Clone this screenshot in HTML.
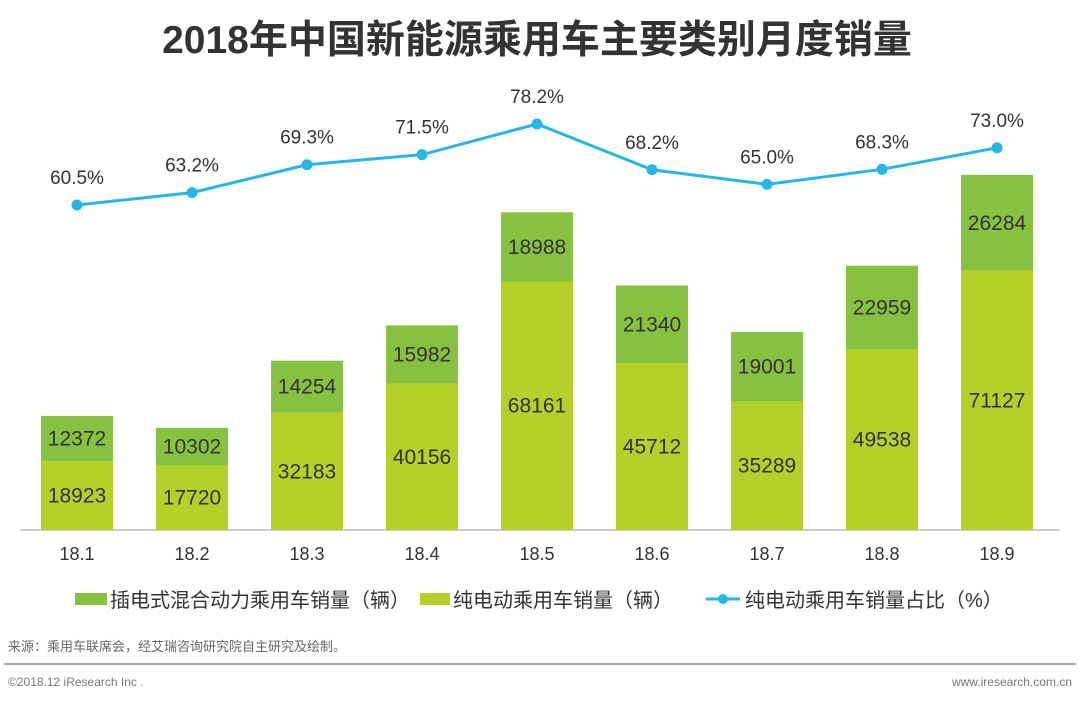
<!DOCTYPE html>
<html><head><meta charset="utf-8">
<style>
body{margin:0;background:#fff;width:1080px;height:698px;overflow:hidden;font-family:"Liberation Sans","Noto Sans CJK SC",sans-serif;}
svg text{font-family:"Liberation Sans","Noto Sans CJK SC",sans-serif;}
</style></head><body>
<svg id="chart" width="1080" height="698">
<text x="537" y="53" text-anchor="middle" font-size="39" font-weight="bold" fill="#333">2018年中国新能源乘用车主要类别月度销量</text>
<line x1="20" y1="530" x2="1060" y2="530" stroke="#999" stroke-width="1"/>
<g id="bars"></g><g id="line"></g><g id="xlabels"></g>
<g>
<rect x="75" y="593" width="32" height="12" fill="#86c13f"/>
<text x="110" y="607" font-size="20" fill="#333">插电式混合动力乘用车销量（辆）</text>
<rect x="420" y="593" width="30" height="12" fill="#b3d12a"/>
<text x="453" y="607" font-size="20" fill="#333">纯电动乘用车销量（辆）</text>
<line x1="706" y1="599" x2="740" y2="599" stroke="#29b6e6" stroke-width="3"/>
<circle cx="723" cy="599" r="5" fill="#29b6e6"/>
<text x="745" y="607" font-size="20" fill="#333">纯电动乘用车销量占比（%）</text>
</g>
<text x="8" y="651" font-size="13" fill="#666">来源：乘用车联席会，经艾瑞咨询研究院自主研究及绘制。</text>
<line x1="4" y1="664" x2="1076" y2="664" stroke="#888" stroke-width="1.5"/>
<text x="8" y="686" font-size="12" fill="#777">©2018.12 iResearch Inc .</text>
<text x="1072" y="686" text-anchor="end" font-size="12" fill="#777">www.iresearch.com.cn</text>
</svg>
<script>
const categories=["18.1","18.2","18.3","18.4","18.5","18.6","18.7","18.8","18.9"];
const evSales=[18923,17720,32183,40156,68161,45712,35289,49538,71127];
const hybridSales=[12372,10302,14254,15982,18988,21340,19001,22959,26284];
const evShare=[60.5,63.2,69.3,71.5,78.2,68.2,65.0,68.3,73.0];
const NS="http://www.w3.org/2000/svg";
function xc(i){return 77+i*115;}
function yv(v){return 530-v*0.003646;}
function yp(p){return 205-(p-60.5)*4.576;}
function mk(t,a,parent,txt){const e=document.createElementNS(NS,t);for(const k in a)e.setAttribute(k,a[k]);if(txt!==undefined)e.textContent=txt;parent.appendChild(e);return e;}
const bars=document.getElementById('bars'),line=document.getElementById('line'),xl=document.getElementById('xlabels');
categories.forEach((c,i)=>{
 const x=xc(i)-36,ev=evSales[i],hy=hybridSales[i];
 const r1=mk('rect',{x:x,y:yv(ev),width:72,height:530-yv(ev),fill:'#b3d12a'},bars);
 
 
 const r2=mk('rect',{x:x,y:yv(ev+hy),width:72,height:yv(ev)-yv(ev+hy),fill:'#86c13f'},bars);
 
 
 const t1=mk('text',{x:xc(i),y:(yv(ev)+530)/2+7,'text-anchor':'middle','font-size':21,fill:'#333'},bars,ev);
 
 
 const t2=mk('text',{x:xc(i),y:(yv(ev)+yv(ev+hy))/2+7,'text-anchor':'middle','font-size':21,fill:'#333'},bars,hy);
 
 
 const t3=mk('text',{x:xc(i),y:560,'text-anchor':'middle','font-size':18,fill:'#333'},xl,c);
 
 
});
const pl=mk('polyline',{points:evShare.map((p,i)=>xc(i)+','+yp(p)).join(' '),fill:'none',stroke:'#29b6e6','stroke-width':3},line);


evShare.forEach((p,i)=>{
 const cc=mk('circle',{cx:xc(i),cy:yp(p),r:5.5,fill:'#29b6e6'},line);
 
 
 const t=mk('text',{x:xc(i),y:yp(p)-21,'text-anchor':'middle','font-size':19,fill:'#333'},line,p.toFixed(1)+'%');
 
 
});
</script>
</body></html>
